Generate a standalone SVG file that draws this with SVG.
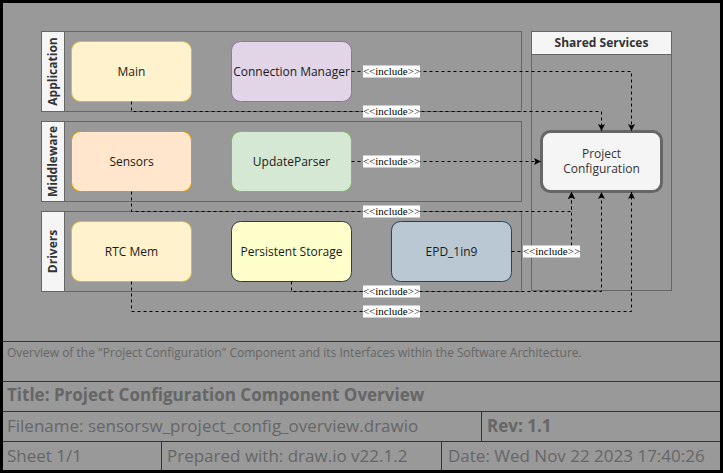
<svg xmlns="http://www.w3.org/2000/svg" width="723" height="473" viewBox="0 0 723 473">
<defs>
<marker id="arr" markerWidth="8" markerHeight="8" refX="7" refY="3.5" orient="auto" markerUnits="userSpaceOnUse">
<path d="M0,0 L7,3.5 L0,7 L1.5,3.5 z" fill="#000"/>
</marker>
<style>
.lane{fill:none;stroke:#666;stroke-width:1}
.lh{fill:#f5f5f5;stroke:#666;stroke-width:1}
.lt{font-family:"Open Sans",sans-serif;font-size:12px;font-weight:bold;fill:#333;text-anchor:middle}
.node{stroke-width:1}
.nt{font-family:"Open Sans",sans-serif;font-size:12px;fill:#1a1a1a;text-anchor:middle}
.edge{fill:none;stroke:#000;stroke-width:1;stroke-dasharray:3 3;marker-end:url(#arr)}
.lbg{fill:#fff}
.lbl{font-family:"Liberation Serif",serif;font-size:11px;fill:#000;text-anchor:middle}
.tb{stroke:#333;stroke-width:1;fill:none}
.tt{font-family:"Open Sans",sans-serif;fill:#666}
</style>
</defs>
<rect x="0" y="0" width="723" height="473" fill="#000"/>
<rect x="3" y="3" width="717" height="467" fill="#999"/>

<g id="lane-application">
<rect class="lane" x="41.5" y="31.5" width="480" height="80"/>
<rect class="lh" x="41.5" y="31.5" width="23" height="80"/>
<text class="lt" transform="translate(57,71.5) rotate(-90)">Application</text>
</g>
<g id="lane-middleware">
<rect class="lane" x="41.5" y="121.5" width="480" height="80"/>
<rect class="lh" x="41.5" y="121.5" width="23" height="80"/>
<text class="lt" transform="translate(57,161.5) rotate(-90)">Middleware</text>
</g>
<g id="lane-drivers">
<rect class="lane" x="41.5" y="211.5" width="480" height="80"/>
<rect class="lh" x="41.5" y="211.5" width="23" height="80"/>
<text class="lt" transform="translate(57,251.5) rotate(-90)">Drivers</text>
</g>
<g id="lane-shared">
<rect class="lane" x="531.5" y="31.5" width="140" height="259"/>
<rect class="lh" x="531.5" y="31.5" width="140" height="23"/>
<text class="lt" x="601.5" y="47">Shared Services</text>
</g>

<g id="node-main">
<rect class="node" x="71.5" y="41.5" width="120" height="60" rx="9" fill="#fff2cc" stroke="#d6b656"/>
<text class="nt" x="131.5" y="75.5">Main</text>
</g>
<g id="node-connection-manager">
<rect class="node" x="231.5" y="41.5" width="120" height="60" rx="9" fill="#e1d5e7" stroke="#9673a6"/>
<text class="nt" x="291.5" y="75.5">Connection Manager</text>
</g>
<g id="node-sensors">
<rect class="node" x="71.5" y="131.5" width="120" height="60" rx="9" fill="#ffe6cc" stroke="#d79b00"/>
<text class="nt" x="131.5" y="165.5">Sensors</text>
</g>
<g id="node-updateparser">
<rect class="node" x="231.5" y="131.5" width="120" height="60" rx="9" fill="#d5e8d4" stroke="#82b366"/>
<text class="nt" x="291.5" y="165.5">UpdateParser</text>
</g>
<g id="node-rtc-mem">
<rect class="node" x="71.5" y="221.5" width="120" height="60" rx="9" fill="#fff2cc" stroke="#d6b656"/>
<text class="nt" x="131.5" y="255.5">RTC Mem</text>
</g>
<g id="node-persistent-storage">
<rect class="node" x="231.5" y="221.5" width="120" height="60" rx="9" fill="#ffffcc" stroke="#36393d"/>
<text class="nt" x="291.5" y="255.5">Persistent Storage</text>
</g>
<g id="node-epd">
<rect class="node" x="391.5" y="221.5" width="120" height="60" rx="9" fill="#bac8d3" stroke="#23445d"/>
<text class="nt" x="451.5" y="255.5">EPD_1in9</text>
</g>
<g id="node-project-configuration">
<rect x="541.5" y="131.5" width="120" height="60" rx="9" fill="#f5f5f5" stroke="#666" stroke-width="3"/>
<text class="nt" x="601.5" y="157.5" style="fill:#333">Project</text>
<text class="nt" x="601.5" y="172.5" style="fill:#333">Configuration</text>
</g>

<g id="connectors">
<path class="edge" d="M351.5,71.5 H631.5 V131"/>
<path class="edge" d="M131.5,101.5 V111.5 H601.5 V131"/>
<path class="edge" d="M351.5,161.5 H541"/>
<path class="edge" d="M131.5,191.5 V211.5 H571.5 V192"/>
<path class="edge" d="M511.5,251.5 H571.5 V192"/>
<path class="edge" d="M291.5,281.5 V291.5 H601.5 V192"/>
<path class="edge" d="M131.5,281.5 V311.5 H631.5 V192"/>
<g>
<rect class="lbg" x="363" y="65.5" width="57" height="12"/>
<text class="lbl" x="391.5" y="75">&lt;&lt;include&gt;&gt;</text>
<rect class="lbg" x="363" y="105.5" width="57" height="12"/>
<text class="lbl" x="391.5" y="115">&lt;&lt;include&gt;&gt;</text>
<rect class="lbg" x="363" y="155.5" width="57" height="12"/>
<text class="lbl" x="391.5" y="165">&lt;&lt;include&gt;&gt;</text>
<rect class="lbg" x="363" y="205.5" width="57" height="12"/>
<text class="lbl" x="391.5" y="215">&lt;&lt;include&gt;&gt;</text>
<rect class="lbg" x="523" y="245.5" width="57" height="12"/>
<text class="lbl" x="551.5" y="255">&lt;&lt;include&gt;&gt;</text>
<rect class="lbg" x="363" y="285.5" width="57" height="12"/>
<text class="lbl" x="391.5" y="295">&lt;&lt;include&gt;&gt;</text>
<rect class="lbg" x="363" y="305.5" width="57" height="12"/>
<text class="lbl" x="391.5" y="315">&lt;&lt;include&gt;&gt;</text>
</g>
</g>

<g id="title-block">
<path class="tb" d="M3,341.5 H720 M3,381.5 H720 M3,411.5 H720 M3,441.5 H720 M481.5,411.5 V441.5 M161.5,441.5 V470 M441.5,441.5 V470"/>
<text class="tt" x="7" y="356.5" font-size="12">Overview of the "Project Configuration" Component and its Interfaces within the Software Architecture.</text>
<text class="tt" x="7" y="401" font-size="17" font-weight="bold">Title: Project Configuration Component Overview</text>
<text class="tt" x="7" y="431.5" font-size="17">Filename: sensorsw_project_config_overview.drawio</text>
<text class="tt" x="487" y="431.5" font-size="17" font-weight="bold">Rev: 1.1</text>
<text class="tt" x="7" y="462" font-size="17">Sheet 1/1</text>
<text class="tt" x="167" y="462" font-size="17">Prepared with: draw.io v22.1.2</text>
<text class="tt" x="448" y="462" font-size="17">Date: Wed Nov 22 2023 17:40:26</text>
</g>
</svg>
